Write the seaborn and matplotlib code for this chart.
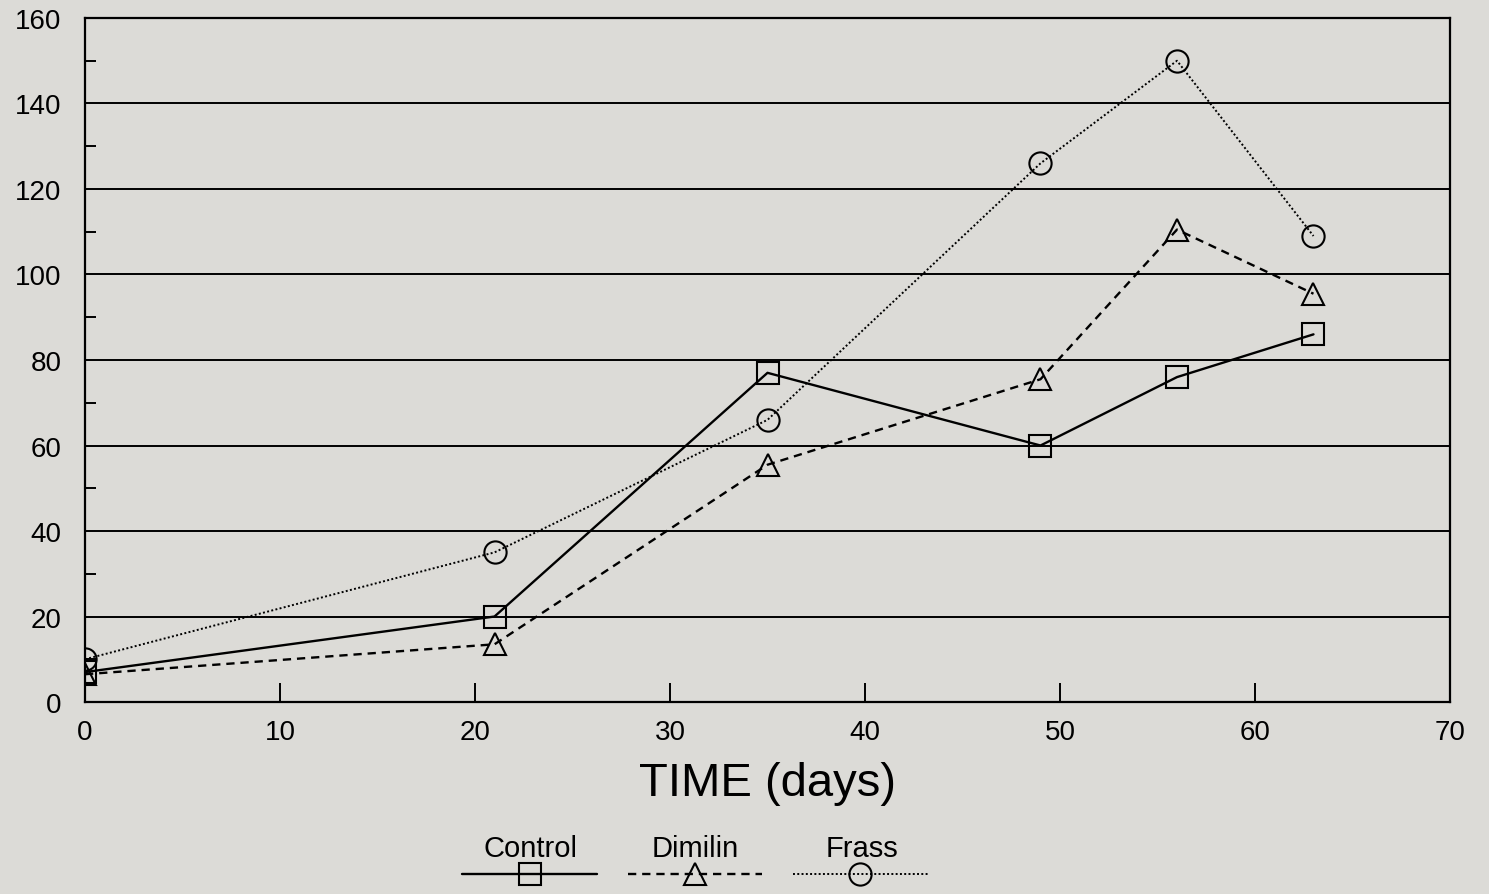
import matplotlib
matplotlib.use("Agg")
import matplotlib.pyplot as plt
import seaborn as sns
import numpy as np
from matplotlib.ticker import MultipleLocator

days = [0, 21, 35, 49, 56, 63]
control = [7, 20, 77, 60, 76, 86]
dimilin = [6.5, 13.5, 55.5, 75.5, 110.5, 95.5]
frass = [10, 35, 66, 126, 150, 109]

series = ["Control", "Dimilin", "Frass"]
values = [control, dimilin, frass]
markers = ["s", "^", "o"]
styles = ["-", (0, (3.5, 2.5)), (0, (1, 1.2))]
widths = [1.7, 1.7, 1.4]

BG = "#dcdbd7"

sns.set_style("white")
plt.rcParams["font.family"] = ["Liberation Sans", "DejaVu Sans"]
plt.rcParams["text.color"] = "black"

fig = plt.figure(figsize=(14.89, 8.95), dpi=100, facecolor=BG)
ax = fig.add_axes([0.0571, 0.2145, 0.9167, 0.7643])
ax.set_facecolor(BG)

for name, vals, mk, ls, lw in zip(series, values, markers, styles, widths):
    sns.lineplot(x=days, y=vals, ax=ax, color="black", linestyle=ls, linewidth=lw,
                 marker=mk, markersize=16, markerfacecolor="none",
                 markeredgecolor="black", markeredgewidth=1.5, label=name)

ax.set_xlim(0, 70)
ax.set_ylim(0, 160)
ax.xaxis.set_major_locator(MultipleLocator(10))
ax.yaxis.set_major_locator(MultipleLocator(20))
ax.yaxis.set_minor_locator(MultipleLocator(10))
ax.tick_params(axis="x", which="major", bottom=True, direction="in", length=14,
               width=1.4, pad=12, labelsize=20, colors="black")
ax.tick_params(axis="y", which="major", left=True, direction="in", length=0,
               pad=17, labelsize=20, colors="black")
ax.tick_params(axis="y", which="minor", left=True, direction="in", length=8,
               width=1.4, color="black")
ax.grid(axis="y", which="major", color="black", linewidth=1.4)
ax.set_axisbelow(True)
for sp in ax.spines.values():
    sp.set_visible(True)
    sp.set_color("black")
    sp.set_linewidth(1.6)

ax.set_xlabel("TIME (days)", fontsize=34, labelpad=12, color="black")
ax.set_ylabel("")

handles, labels = ax.get_legend_handles_labels()
ax.get_legend().remove()
fig.legend(handles, ["", "", ""], loc="center", bbox_to_anchor=(0.4668, 0.019),
           ncol=3, frameon=False, fontsize=20, handlelength=4.85,
           handletextpad=0, columnspacing=1.1, numpoints=1)
for name, xc in zip(series, [0.356, 0.4668, 0.579]):
    fig.text(xc, 0.051, name, ha="center", va="center", fontsize=21, color="black")

fig.savefig("out.png", dpi=100, facecolor=BG)
